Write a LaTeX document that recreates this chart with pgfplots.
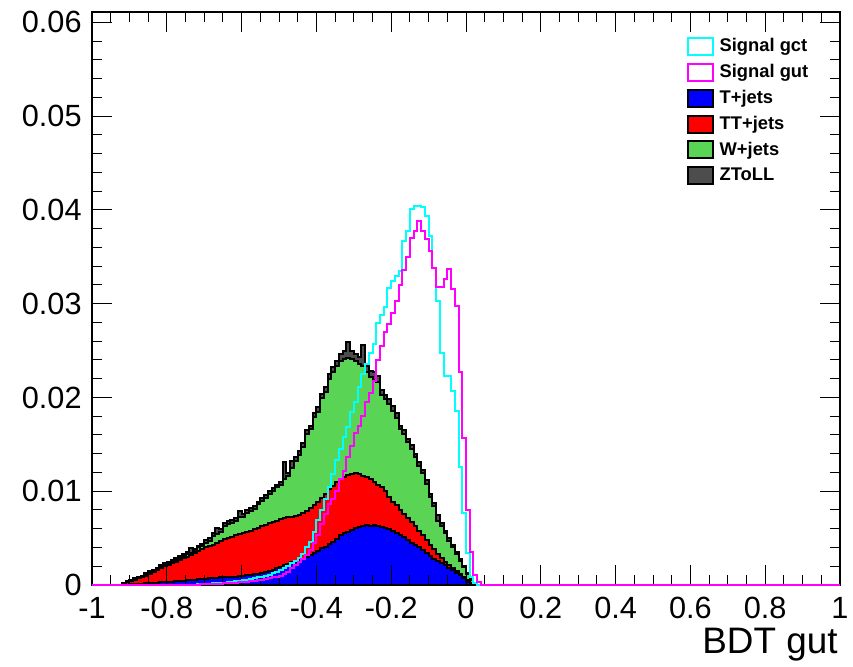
\documentclass[border=0pt]{standalone}
\usepackage{fontspec}
\setmainfont{Liberation Sans}
\usepackage{pgfplots}
\usepackage{pgfplotstable}
\pgfplotsset{compat=1.18}

\definecolor{rootgreen}{RGB}{89,212,84}
\definecolor{rootgray}{RGB}{77,77,77}
\definecolor{rootcyan}{RGB}{0,255,255}
\definecolor{rootmag}{RGB}{255,0,255}
\definecolor{rootblue}{RGB}{0,0,255}
\definecolor{rootred}{RGB}{255,0,0}

\pgfplotsset{boxleg/.style={legend image code/.code={\draw[##1] (0bp,-4.25bp) rectangle (12.5bp,4.25bp);}}}

% bin low edge, then per-bin contents (0.01 wide bins)
\pgfplotstableread{
x T TT W Z gct gut
-1.00 0 0 0 0 0 0
-0.93 0 0 0 0 0 0
-0.92 0 .0001 0 .0001 0 0
-0.91 0 .0003 0 .0001 0 0
-0.90 .0001 .0003 0 .0001 0 0
-0.89 .0001 .0004 .0001 .0001 0 0
-0.88 .0001 .0006 .0001 .0001 0 0
-0.87 .0001 .0007 .0001 .0001 0 0
-0.86 .0002 .0008 .0001 .0002 0 0
-0.85 .0002 .0010 .0001 .0002 0 0
-0.84 .0002 .0012 .0001 .0001 0 0
-0.83 .0002 .0014 .0001 .0001 0 0
-0.82 .0003 .0015 .0001 .0002 0 0
-0.81 .0003 .0017 .0001 .0002 0 0
-0.80 .0003 .0018 .0001 .0002 0 0
-0.79 .0003 .0020 .0002 .0002 0 0
-0.78 .0004 .0021 .0002 .0002 0 0
-0.77 .0004 .0023 .0002 .0002 0 0
-0.76 .0004 .0025 .0002 .0002 0 0
-0.75 .0005 .0025 .0003 .0002 0 0
-0.74 .0005 .0027 .0002 .0005 0 0
-0.73 .0005 .0029 .0002 .0002 0 0
-0.72 .0006 .0030 .0004 .0002 .0001 0
-0.71 .0006 .0032 .0004 .0002 .0001 .0001
-0.70 .0006 .0034 .0005 .0003 .0001 .0001
-0.69 .0007 .0035 .0005 .0003 .0001 .0001
-0.68 .0007 .0036 .0009 .0003 .0002 .0001
-0.67 .0007 .0038 .0009 .0007 .0002 .0001
-0.66 .0008 .0039 .0010 .0003 .0002 .0001
-0.65 .0008 .0041 .0014 .0003 .0002 .0002
-0.64 .0008 .0042 .0015 .0003 .0003 .0002
-0.63 .0009 .0042 .0015 .0003 .0003 .0002
-0.62 .0009 .0044 .0015 .0003 .0004 .0002
-0.61 .0010 .0044 .0018 .0007 .0004 .0003
-0.60 .0010 .0045 .0018 .0003 .0005 .0003
-0.59 .0011 .0046 .0020 .0003 .0005 .0003
-0.58 .0011 .0047 .0021 .0003 .0006 .0004
-0.57 .0012 .0048 .0021 .0003 .0007 .0004
-0.56 .0012 .0049 .0025 .0003 .0008 .0005
-0.55 .0013 .0050 .0027 .0003 .0009 .0005
-0.54 .0014 .0050 .0029 .0003 .0010 .0006
-0.53 .0015 .0051 .0031 .0003 .0011 .0007
-0.52 .0016 .0051 .0033 .0003 .0013 .0008
-0.51 .0018 .0050 .0036 .0003 .0014 .0009
-0.50 .0019 .0051 .0037 .0003 .0016 .0010
-0.49 .0021 .0050 .0042 .0018 .0018 .0012
-0.48 .0022 .0050 .0044 .0003 .0020 .0014
-0.47 .0024 .0049 .0052 .0007 .0023 .0018
-0.46 .0025 .0049 .0058 .0004 .0026 .0021
-0.45 .0027 .0048 .0064 .0004 .0029 .0024
-0.44 .0028 .0049 .0070 .0004 .0033 .0028
-0.43 .0030 .0049 .0082 .0004 .0040 .0032
-0.42 .0032 .0050 .0084 .0004 .0046 .0037
-0.41 .0034 .0051 .0094 .0004 .0057 .0045
-0.40 .0036 .0053 .0096 .0005 .0069 .0053
-0.39 .0039 .0054 .0106 .0005 .0080 .0065
-0.38 .0041 .0056 .0109 .0005 .0092 .0076
-0.37 .0044 .0058 .0118 .0005 .0104 .0086
-0.36 .0046 .0060 .0121 .0005 .0118 .0092
-0.35 .0049 .0061 .0123 .0006 .0133 .0100
-0.34 .0053 .0060 .0126 .0007 .0145 .0113
-0.33 .0055 .0060 .0126 .0008 .0158 .0122
-0.32 .0057 .0060 .0125 .0017 .0168 .0136
-0.31 .0059 .0059 .0123 .0009 .0185 .0148
-0.30 .0061 .0058 .0120 .0007 .0195 .0162
-0.29 .0062 .0056 .0118 .0007 .0211 .0170
-0.28 .0063 .0053 .0118 .0022 .0225 .0180
-0.27 .0064 .0051 .0112 .0006 .0236 .0195
-0.26 .0063 .0050 .0109 .0006 .0247 .0205
-0.25 .0064 .0046 .0109 .0008 .0257 .0217
-0.24 .0063 .0044 .0109 .0007 .0279 .0240
-0.23 .0062 .0042 .0099 .0005 .0288 .0255
-0.22 .0061 .0039 .0098 .0005 .0296 .0270
-0.21 .0060 .0034 .0099 .0005 .0317 .0278
-0.20 .0058 .0031 .0097 .0005 .0324 .0290
-0.19 .0055 .0030 .0093 .0005 .0330 .0303
-0.18 .0053 .0027 .0086 .0004 .0335 .0320
-0.17 .0051 .0025 .0085 .0004 .0367 .0336
-0.16 .0048 .0023 .0081 .0004 .0378 .0350
-0.15 .0045 .0022 .0078 .0004 .0401 .0370
-0.14 .0043 .0020 .0073 .0004 .0404 .0378
-0.13 .0040 .0018 .0069 .0004 .0404 .0388
-0.12 .0037 .0016 .0066 .0004 .0403 .0378
-0.11 .0034 .0014 .0060 .0004 .0394 .0369
-0.10 .0031 .0012 .0051 .0003 .0372 .0356
-0.09 .0028 .0010 .0046 .0003 .0338 .0338
-0.08 .0026 .0007 .0035 .0007 .0303 .0318
-0.07 .0023 .0006 .0034 .0003 .0247 .0318
-0.06 .0021 .0004 .0030 .0003 .0223 .0326
-0.05 .0018 .0003 .0026 .0003 .0223 .0337
-0.04 .0016 .0002 .0023 .0002 .0207 .0316
-0.03 .0013 .0002 .0018 .0002 .0186 .0298
-0.02 .0011 .0001 .0014 .0002 .0126 .0227
-0.01 .0007 .0002 .0010 .0001 .0077 .0157
0.00 .0003 .0002 .0007 .0001 .0034 .0080
0.01 .0001 .0001 .0003 .0001 .0009 .0035
0.02 0 0 .0002 0 .0002 .0011
0.03 0 0 0 0 0 .0003
0.04 0 0 0 0 0 0
1.00 0 0 0 0 0 0
}\bdt

\begin{document}
\begin{tikzpicture}
\begin{axis}[
  scale only axis,
  width=374bp, height=286.5bp,
  xmin=-1, xmax=1, ymin=0, ymax=0.0611,
  xtick={-1,-0.8,-0.6,-0.4,-0.2,0,0.2,0.4,0.6,0.8,1},
  ytick={0,0.01,0.02,0.03,0.04,0.05,0.06},
  minor x tick num=3, minor y tick num=4,
  scaled y ticks=false,
  major tick length=10bp, minor tick length=5bp,
  tick style={black, line width=0.5bp},
  axis line style={black, line width=0.6bp},
  /pgf/number format/assume math mode=true,
  /pgf/number format/fixed, /pgf/number format/precision=2,
  tick label style={font=\fontsize{15.4}{18}\selectfont},
  yticklabel style={inner sep=0pt, xshift=-5bp},
  xticklabel style={inner sep=0pt, yshift=-6bp},
  xlabel={BDT gut},
  x label style={at={(axis description cs:1,0)}, anchor=north east, inner sep=0pt,
    yshift=-21.5bp, xshift=-1bp, font=\fontsize{18.5}{20}\selectfont},
  set layers=axis on top, clip=false,
  const plot mark left,
  legend style={at={(0.795,0.956)}, anchor=north west, draw=none, fill=none,
    inner sep=0pt, outer sep=0pt, row sep=3.4bp, column sep=3bp,
    font=\fontsize{9.2}{10}\selectfont\bfseries,
    nodes={inner sep=0pt}},
  legend cell align=left,
]
\coordinate (sw) at (rel axis cs:0,0);
\addlegendimage{boxleg, draw=rootcyan, fill=white, line width=1bp}
\addlegendentry{Signal gct}
\addlegendimage{boxleg, draw=rootmag, fill=white, line width=1bp}
\addlegendentry{Signal gut}
\addlegendimage{boxleg, draw=black, fill=rootblue, line width=1bp}
\addlegendentry{T+jets}
\addlegendimage{boxleg, draw=black, fill=rootred, line width=1bp}
\addlegendentry{TT+jets}
\addlegendimage{boxleg, draw=black, fill=rootgreen, line width=1bp}
\addlegendentry{W+jets}
\addlegendimage{boxleg, draw=black, fill=rootgray, line width=1bp}
\addlegendentry{ZToLL}

\addplot[forget plot, draw=black, fill=rootgray, line width=1bp]
  table[x=x, y expr=\thisrow{T}+\thisrow{TT}+\thisrow{W}+\thisrow{Z}] {\bdt} \closedcycle;
\addplot[forget plot, draw=black, fill=rootgreen, line width=1bp]
  table[x=x, y expr=\thisrow{T}+\thisrow{TT}+\thisrow{W}] {\bdt} \closedcycle;
\addplot[forget plot, draw=black, fill=rootred, line width=1bp]
  table[x=x, y expr=\thisrow{T}+\thisrow{TT}] {\bdt} \closedcycle;
\addplot[forget plot, draw=black, fill=rootblue, line width=1bp]
  table[x=x, y=T] {\bdt} \closedcycle;
\addplot[forget plot, on layer=axis foreground, draw=rootcyan, line width=1bp] table[x=x, y=gct] {\bdt};
\addplot[forget plot, on layer=axis foreground, draw=rootmag, line width=1bp] table[x=x, y=gut] {\bdt};
\end{axis}
\pgfresetboundingbox
\path (sw) ++(-46bp,-41bp) rectangle ++(426.5bp,333.5bp);
\end{tikzpicture}
\end{document}
